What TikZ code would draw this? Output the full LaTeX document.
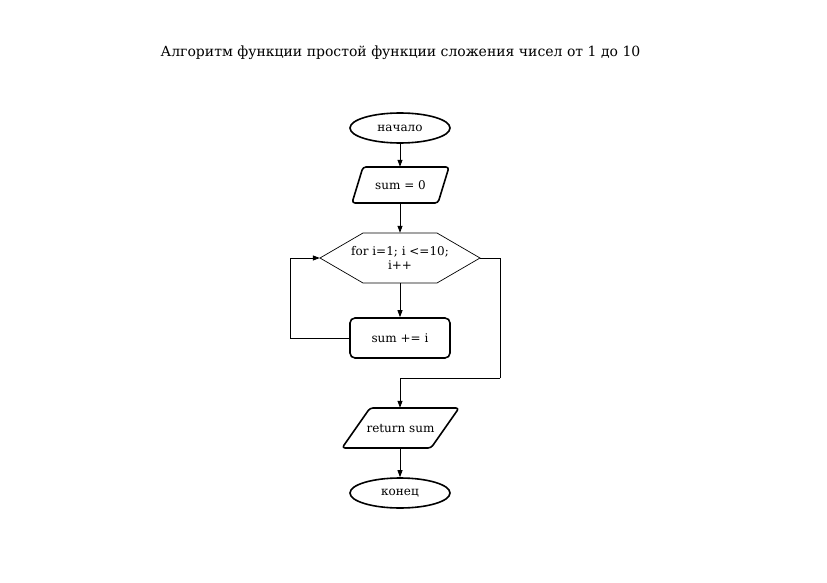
\documentclass[tikz,border=0pt]{standalone}
\usepackage{fontspec}
\setmainfont{DejaVu Serif}
\usetikzlibrary{arrows.meta,shapes.geometric}
\begin{document}
\begin{tikzpicture}[x=1pt,y=-1pt,
  every node/.style={font=\fontsize{12}{14}\selectfont, inner sep=0pt, align=center},
  shp/.style={draw=black, line width=1.6pt, line join=round},
  thin shp/.style={draw=black, line width=0.7pt},
  conn/.style={draw=black, line width=0.8pt, -{Triangle[length=7pt,width=5pt]}},
  line/.style={draw=black, line width=0.8pt}]
\useasboundingbox (0,0) rectangle (827,583);
\node[font=\fontsize{14}{16}\selectfont] (title) at (400.5,53) {Алгоритм функции простой функции сложения чисел от 1 до 10};
% start
\node[draw, ellipse, line width=1.6pt, minimum width=100pt, minimum height=30pt] (start) at (400,128) {начало};
% sum = 0
\node[minimum width=97pt, minimum height=36pt] (init) at (400.5,185) {sum = 0};
\draw[shp, rounded corners=3pt] (352,203) -- (363,167) -- (449,167) -- (438,203) -- cycle;
% loop hexagon
\node[minimum width=160pt, minimum height=50pt] (loop) at (400,258) {for i=1; i <=10;\\ i++};
\draw[thin shp] (320,258) -- (363,233) -- (437,233) -- (480,258) -- (437,283) -- (363,283) -- cycle;
% body
\node[draw, rounded corners=5pt, line width=1.6pt, minimum width=100pt, minimum height=40pt] (body) at (400,338) {sum += i};
% return
\node[minimum width=117pt, minimum height=40pt] (ret) at (400.5,428) {return sum};
\draw[shp, rounded corners=3pt] (342,448) -- (370,408) -- (459,408) -- (431,448) -- cycle;
% end
\node[draw, ellipse, line width=1.6pt, minimum width=100pt, minimum height=30pt] (stop) at (400,493) {конец};
\coordinate (c1) at (500,378);
% connectors
\draw[conn] (start) -- (init.north -| start);
\draw[conn] (init.south -| start) -- (loop.north);
\draw[conn] (loop.south) -- (body);
\draw[conn] (body.west) -- (290,338) |- (loop.west);
\draw[line] (loop.east) -| (c1);
\draw[conn] (c1) -| (ret.north -| start);
\draw[conn] (ret.south -| start) -- (stop);
\end{tikzpicture}
\end{document}
